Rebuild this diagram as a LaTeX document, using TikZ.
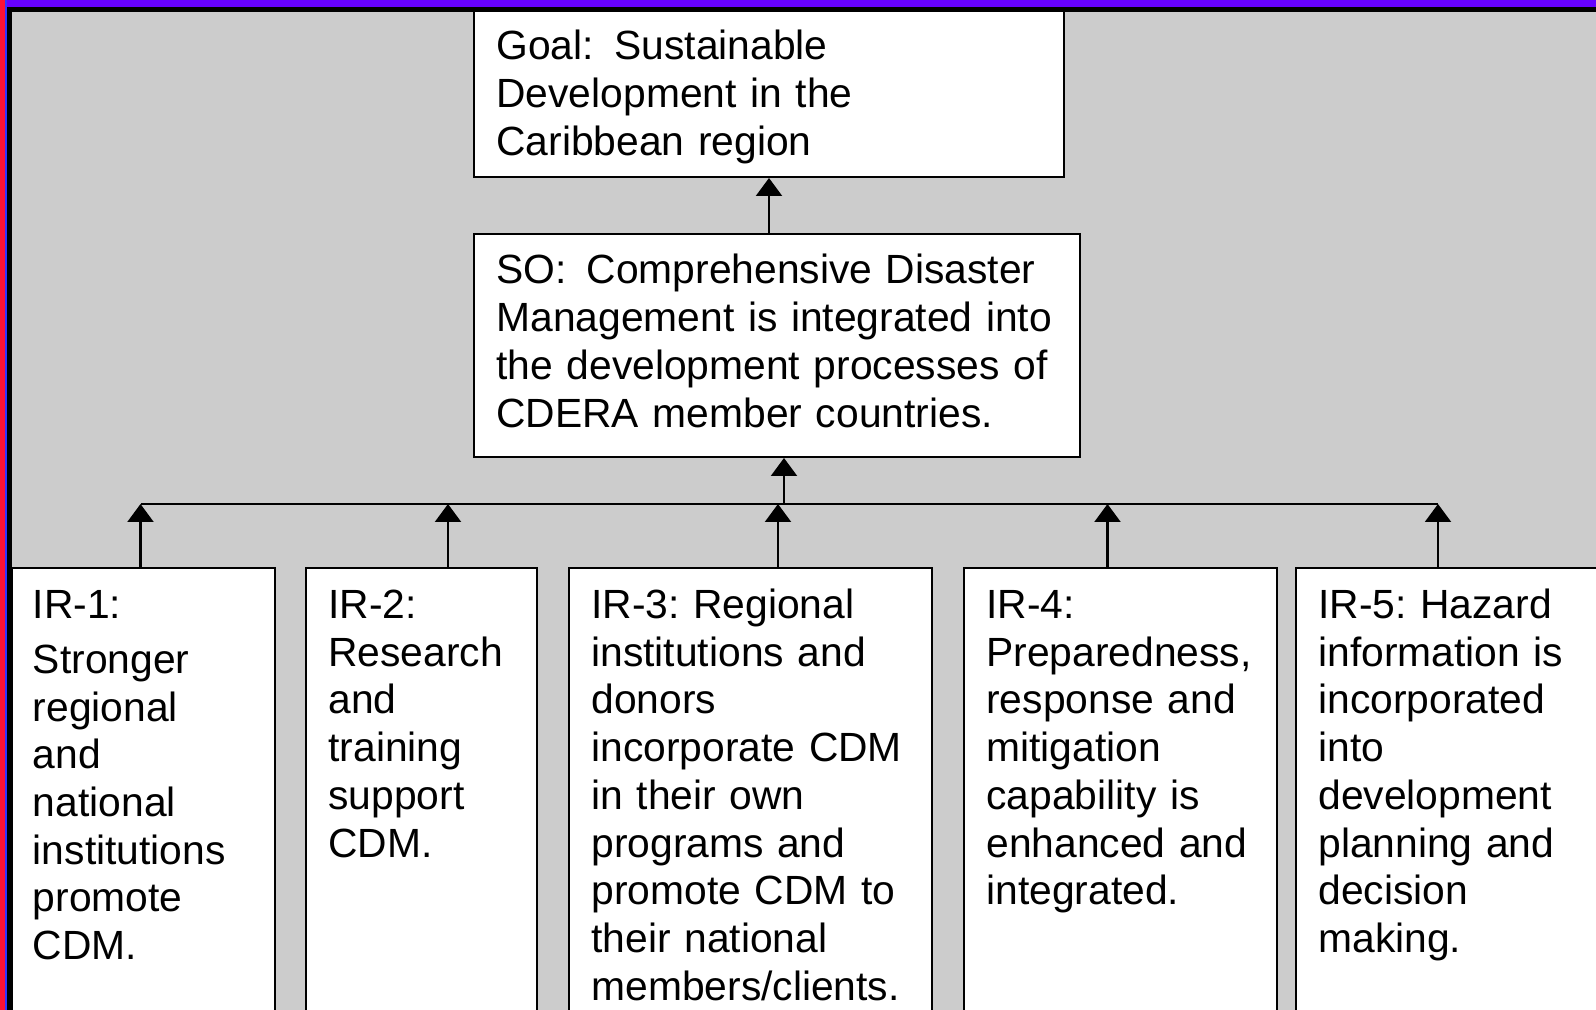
\documentclass[tikz,border=0pt]{standalone}
\usepackage{fontspec}
\setmainfont{Liberation Sans}
\usetikzlibrary{arrows.meta}
\definecolor{bg}{HTML}{CCCCCC}
\definecolor{topband}{HTML}{6600FF}
\definecolor{redband}{HTML}{FF1133}
\definecolor{blueband}{HTML}{3333FF}
\frenchspacing
\begin{document}
\begin{tikzpicture}[x=0.5pt,y=-0.5pt,
  box/.style={draw=black, line width=1pt, fill=white, inner sep=0pt},
  txt/.style={anchor=base west, inner sep=0pt, align=left, text width=290pt,
    font=\frenchspacing\fontsize{20.4}{23.85}\selectfont},
  arr/.style={line width=1.1pt, -{Triangle[width=13pt,length=9pt]}},
  bus/.style={line width=1.1pt}]
\clip (0,0) rectangle (1596,1010);
\fill[bg] (0,0) rectangle (1596,1010);
\fill[topband] (0,0) rectangle (1596,7);
\fill[black] (7,7) rectangle (1596,12);
\fill[black] (7,7) rectangle (12,1010);
\fill[blueband] (5,0) rectangle (7,1010);
\fill[redband] (0,0) rectangle (5,1010);

% boxes
\node[box, minimum width=295pt, minimum height=83pt] (goal) at (769,94) {};
\node[box, minimum width=303pt, minimum height=111.5pt] (so) at (777,345.5) {};
\node[box, minimum width=131.5pt, minimum height=231pt] (ir1) at (143.5,799) {};
\node[box, minimum width=115.5pt, minimum height=231pt] (ir2) at (421.5,799) {};
\node[box, minimum width=181.5pt, minimum height=231pt] (ir3) at (750.5,799) {};
\node[box, minimum width=156.5pt, minimum height=231pt] (ir4) at (1120.5,799) {};
\node[box, minimum width=162pt, minimum height=231pt] (ir5) at (1458,799) {};

% texts
\node[txt, text width=280pt] (goalt) at (496,60) {Goal:\hspace{10.3pt}Sustainable\\Development in the\\Caribbean region};
\node[txt, text width=295pt] (sot) at (496,284) {SO:\hspace{10pt}Comprehensive Disaster\\Management is integrated into\\the development processes of\\CDERA member countries.};
\node[txt, text width=125pt] (ir1t) at (32.5,618.5) {IR-1:\\[3.6pt]Stronger\\regional\\and\\national\\institutions\\promote\\CDM.};
\node[txt, text width=110pt] (ir2t) at (328,618.5) {IR-2:\\Research\\and\\training\\support\\CDM.};
\node[txt, text width=175pt] (ir3t) at (591,618.5) {IR-3: Regional\\institutions and\\donors\\incorporate CDM\\in their own\\programs and\\promote CDM to\\their national\\members/clients.};
\node[txt, text width=150pt] (ir4t) at (986,618.5) {IR-4:\\Preparedness,\\response and\\mitigation\\capability is\\enhanced and\\integrated.};
\node[txt, text width=150pt] (ir5t) at (1318,618.5) {IR-5: Hazard\\information is\\incorporated\\into\\development\\planning and\\decision\\making.};

% connectors
\coordinate (b1) at (140.5,504);
\coordinate (b2) at (448,504);
\coordinate (b3) at (778,504);
\coordinate (b4) at (1107.5,504);
\coordinate (b5) at (1438,504);
\coordinate (bm) at (784,504);
\draw[bus] (b1) -- (b5);
\draw[arr] (b1 |- ir1.north) -- (b1);
\draw[arr] (b2 |- ir2.north) -- (b2);
\draw[arr] (b3 |- ir3.north) -- (b3);
\draw[arr] (b4 |- ir4.north) -- (b4);
\draw[arr] (b5 |- ir5.north) -- (b5);
\draw[arr] (bm) -- (bm |- so.south);
\draw[arr] (goal.south |- so.north) -- (goal.south);
\end{tikzpicture}
\end{document}
